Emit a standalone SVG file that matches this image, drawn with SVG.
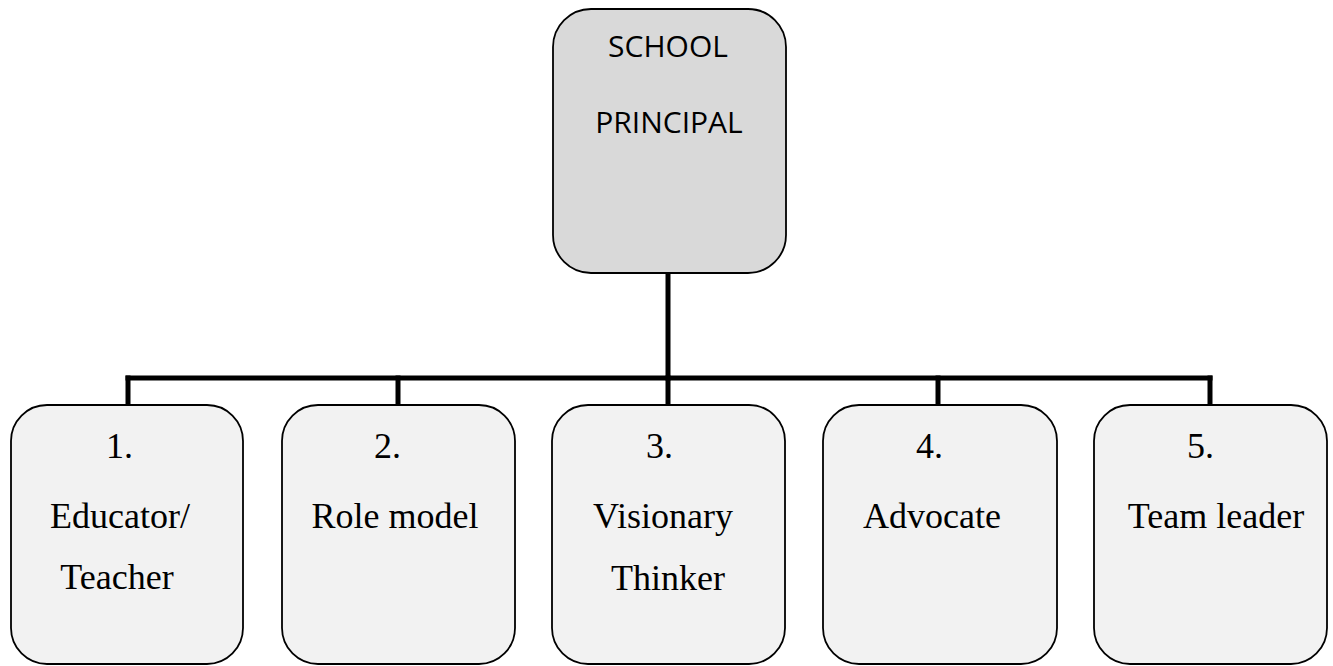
<svg xmlns="http://www.w3.org/2000/svg" width="1333" height="666" viewBox="0 0 1333 666">
  <style>
    .box { stroke: #000; stroke-width: 1.8; }
    .head { fill: #d9d9d9; }
    .role { fill: #f2f2f2; }
    .sans { font-family: "Open Sans", "Liberation Sans", sans-serif; font-size: 30px; fill: #000; text-anchor: middle; }
    .serif { font-family: "Liberation Serif", "Times New Roman", serif; font-size: 36px; fill: #000; }
    .mid { text-anchor: middle; }
    .conn { stroke: #000; stroke-width: 5; fill: none; stroke-linecap: square; }
  </style>
  <rect width="1333" height="666" fill="#fff"/>

  <!-- tree connectors -->
  <g id="connectors">
    <line class="conn" x1="668" y1="274" x2="668" y2="378"/>
    <line class="conn" x1="128" y1="378" x2="1210" y2="378"/>
    <line class="conn" x1="128" y1="378" x2="128" y2="404"/>
    <line class="conn" x1="398" y1="378" x2="398" y2="404"/>
    <line class="conn" x1="668" y1="378" x2="668" y2="404"/>
    <line class="conn" x1="938" y1="378" x2="938" y2="404"/>
    <line class="conn" x1="1210" y1="378" x2="1210" y2="404"/>
  </g>

  <g id="principal">
    <rect class="box head" x="553" y="9" width="233" height="264" rx="38"/>
    <text class="sans" x="668" y="57">SCHOOL</text>
    <text class="sans" x="669" y="133">PRINCIPAL</text>
  </g>

  <g id="role-1">
    <rect class="box role" x="11" y="405" width="232" height="259" rx="36"/>
    <text class="serif" x="106" y="458">1.</text>
    <text class="serif mid" x="120" y="528">Educator/</text>
    <text class="serif mid" x="117" y="589">Teacher</text>
  </g>

  <g id="role-2">
    <rect class="box role" x="282" y="405" width="233" height="259" rx="36"/>
    <text class="serif" x="374" y="458">2.</text>
    <text class="serif mid" x="395" y="528">Role model</text>
  </g>

  <g id="role-3">
    <rect class="box role" x="552" y="405" width="233" height="259" rx="36"/>
    <text class="serif" x="646" y="458">3.</text>
    <text class="serif mid" x="663" y="528">Visionary</text>
    <text class="serif mid" x="668" y="590">Thinker</text>
  </g>

  <g id="role-4">
    <rect class="box role" x="823" y="405" width="234" height="259" rx="36"/>
    <text class="serif" x="916" y="458">4.</text>
    <text class="serif mid" x="932" y="528">Advocate</text>
  </g>

  <g id="role-5">
    <rect class="box role" x="1094" y="405" width="233" height="259" rx="36"/>
    <text class="serif" x="1187" y="458">5.</text>
    <text class="serif mid" x="1216" y="528">Team leader</text>
  </g>
</svg>
